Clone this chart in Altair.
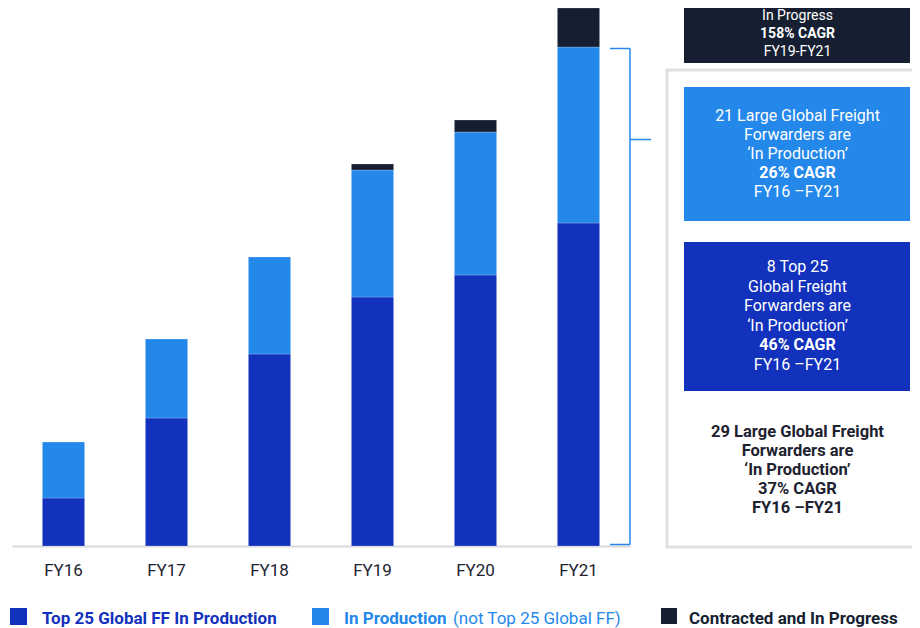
import altair as alt
import pandas as pd

years = ["FY16", "FY17", "FY18", "FY19", "FY20", "FY21"]
series = ["Top 25 Global FF In Production",
          "In Production (not Top 25 Global FF)",
          "Contracted and In Progress"]
top25 = [48, 128, 192, 249, 271, 323]
other = [56, 79, 97, 127, 143, 176]
contracted = [0, 0, 0, 6, 12, 39]
colors = ["#1231BC", "#2488EB", "#161F31"]

navy_lines = ["In Progress", "158% CAGR", "FY19-FY21"]
light_lines = ["21 Large Global Freight", "Forwarders are", "\u2018In Production\u2019",
               "26% CAGR", "FY16 \u2013FY21"]
dark_lines = ["8 Top 25", "Global Freight", "Forwarders are", "\u2018In Production\u2019",
              "46% CAGR", "FY16 \u2013FY21"]
plain_lines = ["29 Large Global Freight", "Forwarders are", "\u2018In Production\u2019",
               "37% CAGR", "FY16 \u2013FY21"]

rows = []
for i, yr in enumerate(years):
    for k, vals in enumerate([top25, other, contracted]):
        if vals[i] > 0:
            rows.append({"year": yr, "series": series[k], "value": vals[i], "rank": k})
df = pd.DataFrame(rows)
one = pd.DataFrame({"k": [0]})
FONT = "Roboto"

bars = alt.Chart(df).mark_bar(stroke="#ffffff", strokeWidth=0.6, strokeOpacity=0.35).encode(
    x=alt.X("year:N", sort=years,
            scale=alt.Scale(range=[4, 622], paddingInner=0.59, paddingOuter=0.295),
            axis=alt.Axis(title=None, labelAngle=0, ticks=False, domainColor="#d9d9d9",
                          domainWidth=2, labelFontSize=17, labelColor="#1e2230",
                          labelPadding=16, labelBaseline="top", labelFont=FONT)),
    y=alt.Y("value:Q", stack="zero",
            scale=alt.Scale(domain=[0, 538], range=[538, 0], nice=False, zero=True),
            axis=None),
    color=alt.Color("series:N", scale=alt.Scale(domain=series, range=colors), legend=None),
    order=alt.Order("rank:Q", sort="ascending"),
)


def box(x, x2, y, y2, fill, stroke=None, sw=0):
    kw = dict(color=fill)
    if stroke:
        kw.update(stroke=stroke, strokeWidth=sw)
    return alt.Chart(one).mark_rect(**kw).encode(
        x=alt.value(x), x2=alt.value(x2), y=alt.value(y), y2=alt.value(y2))


def txt(s, x, y, size=16, weight="normal", color="#ffffff", align="center"):
    return alt.Chart(one).mark_text(text=s, fontSize=size, fontWeight=weight, color=color,
                                    align=align, baseline="middle", font=FONT).encode(
        x=alt.value(x), y=alt.value(y))


def rule(x, x2, y, y2, color="#2488EB", sw=1.5):
    return alt.Chart(one).mark_rule(color=color, strokeWidth=sw).encode(
        x=alt.value(x), x2=alt.value(x2), y=alt.value(y), y2=alt.value(y2))


layers = [bars]
# bracket
layers += [rule(622, 622, 40.5, 536.5), rule(602, 622, 40.5, 40.5),
           rule(602, 622, 536.5, 536.5), rule(622, 643, 131.5, 131.5)]
# outer grey box
layers.append(box(659, 930, 62, 539, "#ffffff", "#e0e0db", 3))
# navy box
layers.append(box(676, 902, -10, 55, "#161F31"))
cx = 789.5
for s, yy, w in zip(navy_lines, [8, 26, 44], ["normal", "bold", "normal"]):
    layers.append(txt(s, cx, yy, size=14, weight=w))
# light box
layers.append(box(676, 902, 79, 213, "#2488EB"))
for j, s in enumerate(light_lines):
    layers.append(txt(s, cx, 108 + 19 * j, weight="bold" if j == 3 else "normal"))
# dark box
layers.append(box(676, 902, 234, 383, "#1231BC"))
for j, s in enumerate(dark_lines):
    layers.append(txt(s, cx, 259 + 19.5 * j, weight="bold" if j == 4 else "normal"))
# plain text
for j, s in enumerate(plain_lines):
    layers.append(txt(s, cx, 424 + 19 * j, size=16.5, weight="bold", color="#1e2230"))

# legend
ly = 611
layers.append(box(2, 19, 600, 617, colors[0]))
layers.append(txt(series[0], 34, ly, size=17, weight="bold", color=colors[0], align="left"))
layers.append(box(304, 321, 600, 617, colors[1]))
layers.append(txt("In Production", 336, ly, size=17, weight="bold", color=colors[1], align="left"))
layers.append(txt("(not Top 25 Global FF)", 445, ly, size=17, weight="normal", color=colors[1], align="left"))
layers.append(box(653, 669, 600, 616, colors[2]))
layers.append(txt(series[2], 681, ly, size=17, weight="bold", color=colors[2], align="left"))

chart = alt.layer(*layers).properties(
    width=904, height=538,
    padding={"left": 0, "right": 0, "top": 0, "bottom": 82},
    autosize=alt.AutoSizeParams(type="none"),
).configure_view(stroke=None)

chart.save("out.html", embed_options={"renderer": "svg", "actions": False})
